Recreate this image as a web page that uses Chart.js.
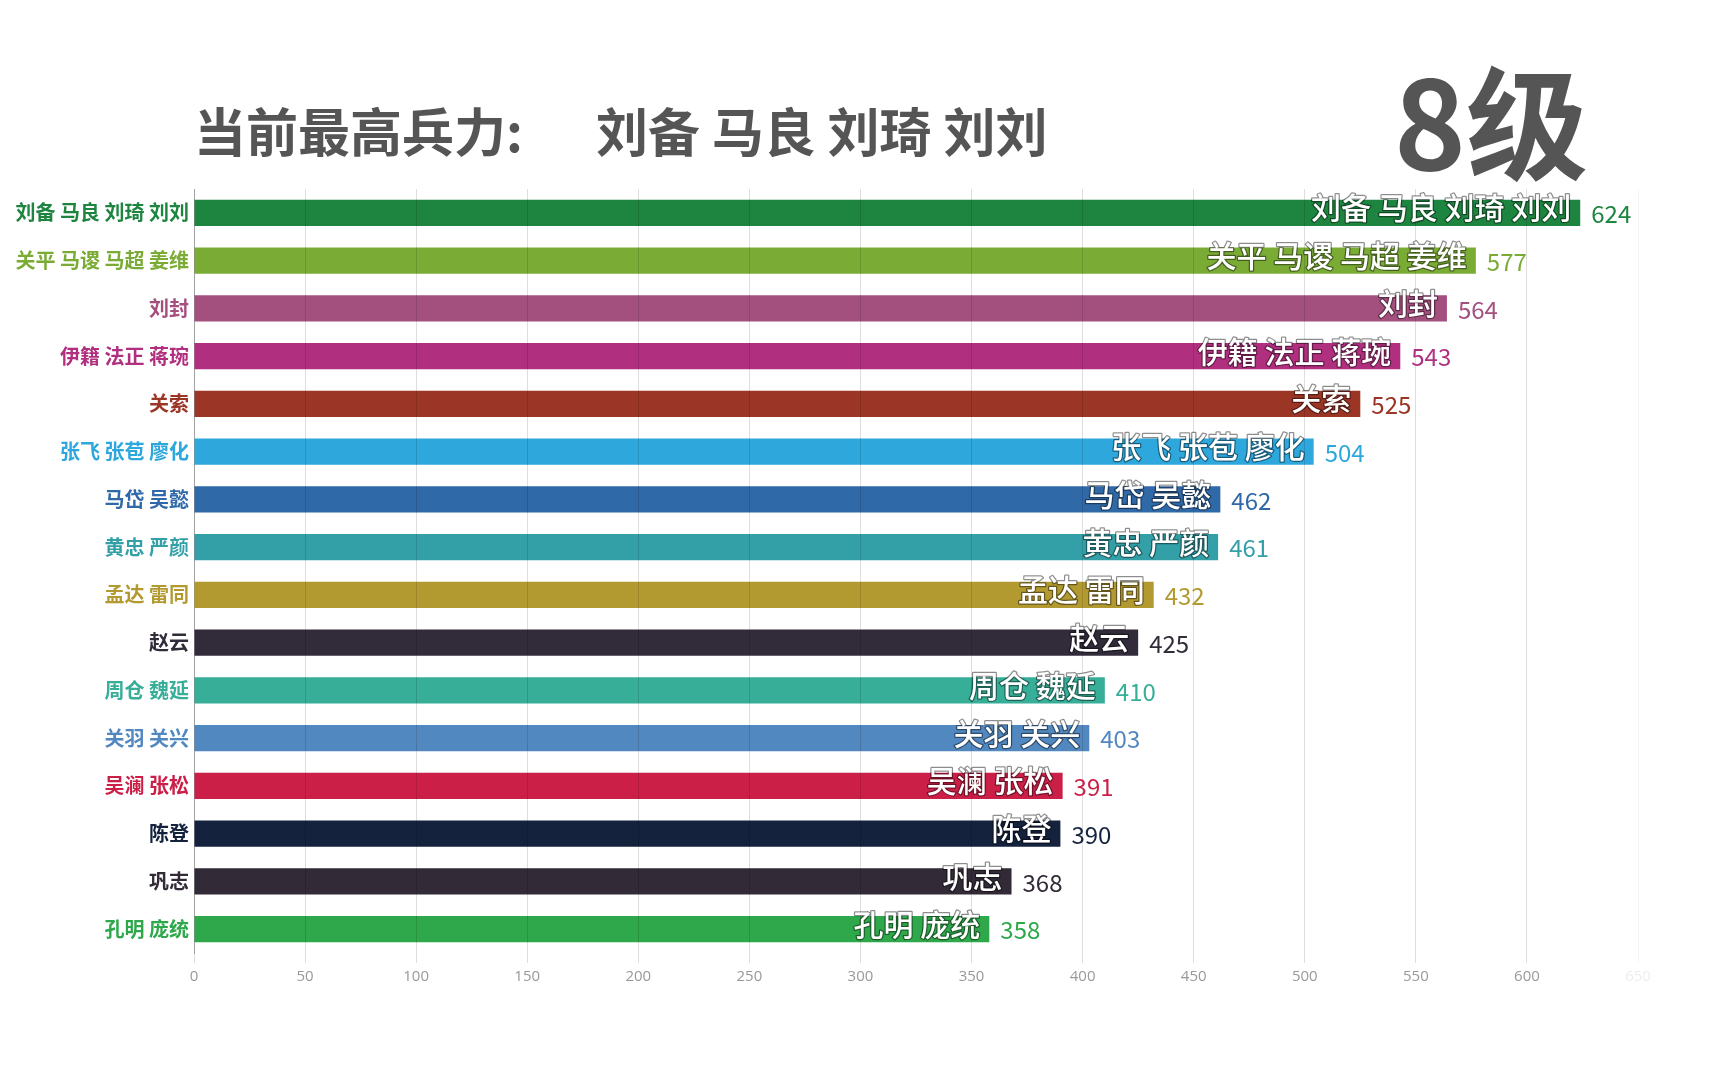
<!DOCTYPE html>
<html>
<head>
<meta charset="utf-8">
<script src="https://cdn.jsdelivr.net/npm/chart.js@4"></script>
<style>
  html, body { margin: 0; padding: 0; background: #fff; }
  #wrap { position: relative; width: 1726px; height: 1079px; }
</style>
</head>
<body>
<div id="wrap"><canvas id="barChart"></canvas></div>
<script>
// data
const names = ["刘备 马良 刘琦 刘刘", "关平 马谡 马超 姜维", "刘封", "伊籍 法正 蒋琬", "关索",
    "张飞 张苞 廖化", "马岱 吴懿", "黄忠 严颜", "孟达 雷同", "赵云", "周仓 魏延", "关羽 关兴",
    "吴澜 张松", "陈登", "巩志", "孔明 庞统"];
const power = [624, 577, 564, 543, 525, 504, 462, 461, 432, 425, 410, 403, 391, 390, 368, 358];
const barColors = ["#1e8540", "#7aab35", "#a4507f", "#b0307f", "#9b3526", "#2ea7dc", "#3069a8", "#33a0a8",
    "#b39a30", "#322b3a", "#36ae98", "#5288c0", "#cc1f48", "#14223e", "#322a36", "#2ea84a"];
const titleLeft = "当前最高兵力:";
const titleTop = "刘备 马良 刘琦 刘刘";
const levelText = "8级";

const CJK = '"Noto Sans CJK SC", "Microsoft YaHei", sans-serif';

// title, level and bar labels
const labelPlugin = {
    id: "barLabels",
    afterDraw(chart) {
        const ctx = chart.ctx;
        ctx.save();
        ctx.fillStyle = "#555";
        ctx.textBaseline = "middle";
        ctx.textAlign = "left";
        ctx.font = "bold 52px " + CJK;
        ctx.fillText(titleLeft, 194, 132);
        ctx.fillText(titleTop, 596, 132);
        ctx.font = "bold 122px " + CJK;
        ctx.fillText(levelText, 1394, 124);

        const meta = chart.getDatasetMeta(0);
        meta.data.forEach((bar, i) => {
            // name inside the bar
            ctx.font = "500 30px " + CJK;
            ctx.textAlign = "right";
            ctx.lineJoin = "round";
            ctx.lineWidth = 2.5;
            ctx.strokeStyle = "rgba(0,0,0,0.45)";
            ctx.strokeText(names[i], bar.x - 9, bar.y - 5);
            ctx.fillStyle = "#fff";
            ctx.fillText(names[i], bar.x - 9, bar.y - 5);
            // value after the bar
            ctx.font = "24px " + CJK;
            ctx.textAlign = "left";
            ctx.fillStyle = barColors[i];
            ctx.fillText(String(power[i]), bar.x + 11, bar.y + 1);
        });
        ctx.restore();
    }
};

new Chart(document.getElementById("barChart"), {
    type: "bar",
    data: {
        labels: names,
        datasets: [{
            data: power,
            backgroundColor: barColors,
            categoryPercentage: 1,
            barPercentage: 0.55
        }]
    },
    options: {
        indexAxis: "y",
        responsive: true,
        maintainAspectRatio: false,
        animation: false,
        layout: { padding: { top: 189, right: 88, bottom: 88, left: 0 } },
        plugins: {
            legend: { display: false },
            tooltip: { enabled: false }
        },
        scales: {
            x: {
                min: 0,
                max: 650,
                ticks: {
                    stepSize: 50,
                    padding: 5,
                    color: (c) => (c.tick && c.tick.value === 650 ? "#eee" : "#999"),
                    font: { size: 15, family: '"Open Sans", sans-serif' }
                },
                grid: {
                    z: 1,
                    color: (c) => (c.tick && c.tick.value === 650 ? "rgba(0,0,0,0.04)" : "rgba(0,0,0,0.13)"),
                    tickLength: 10
                },
                border: { display: false }
            },
            y: {
                afterFit(scale) { scale.width = 194; },
                ticks: {
                    padding: 5,
                    color: (c) => barColors[c.index],
                    font: { size: 20, weight: "bold", family: CJK }
                },
                grid: { display: false, drawTicks: false },
                border: { display: true, color: "#bbb" }
            }
        }
    },
    plugins: [labelPlugin]
});
</script>
</body>
</html>
